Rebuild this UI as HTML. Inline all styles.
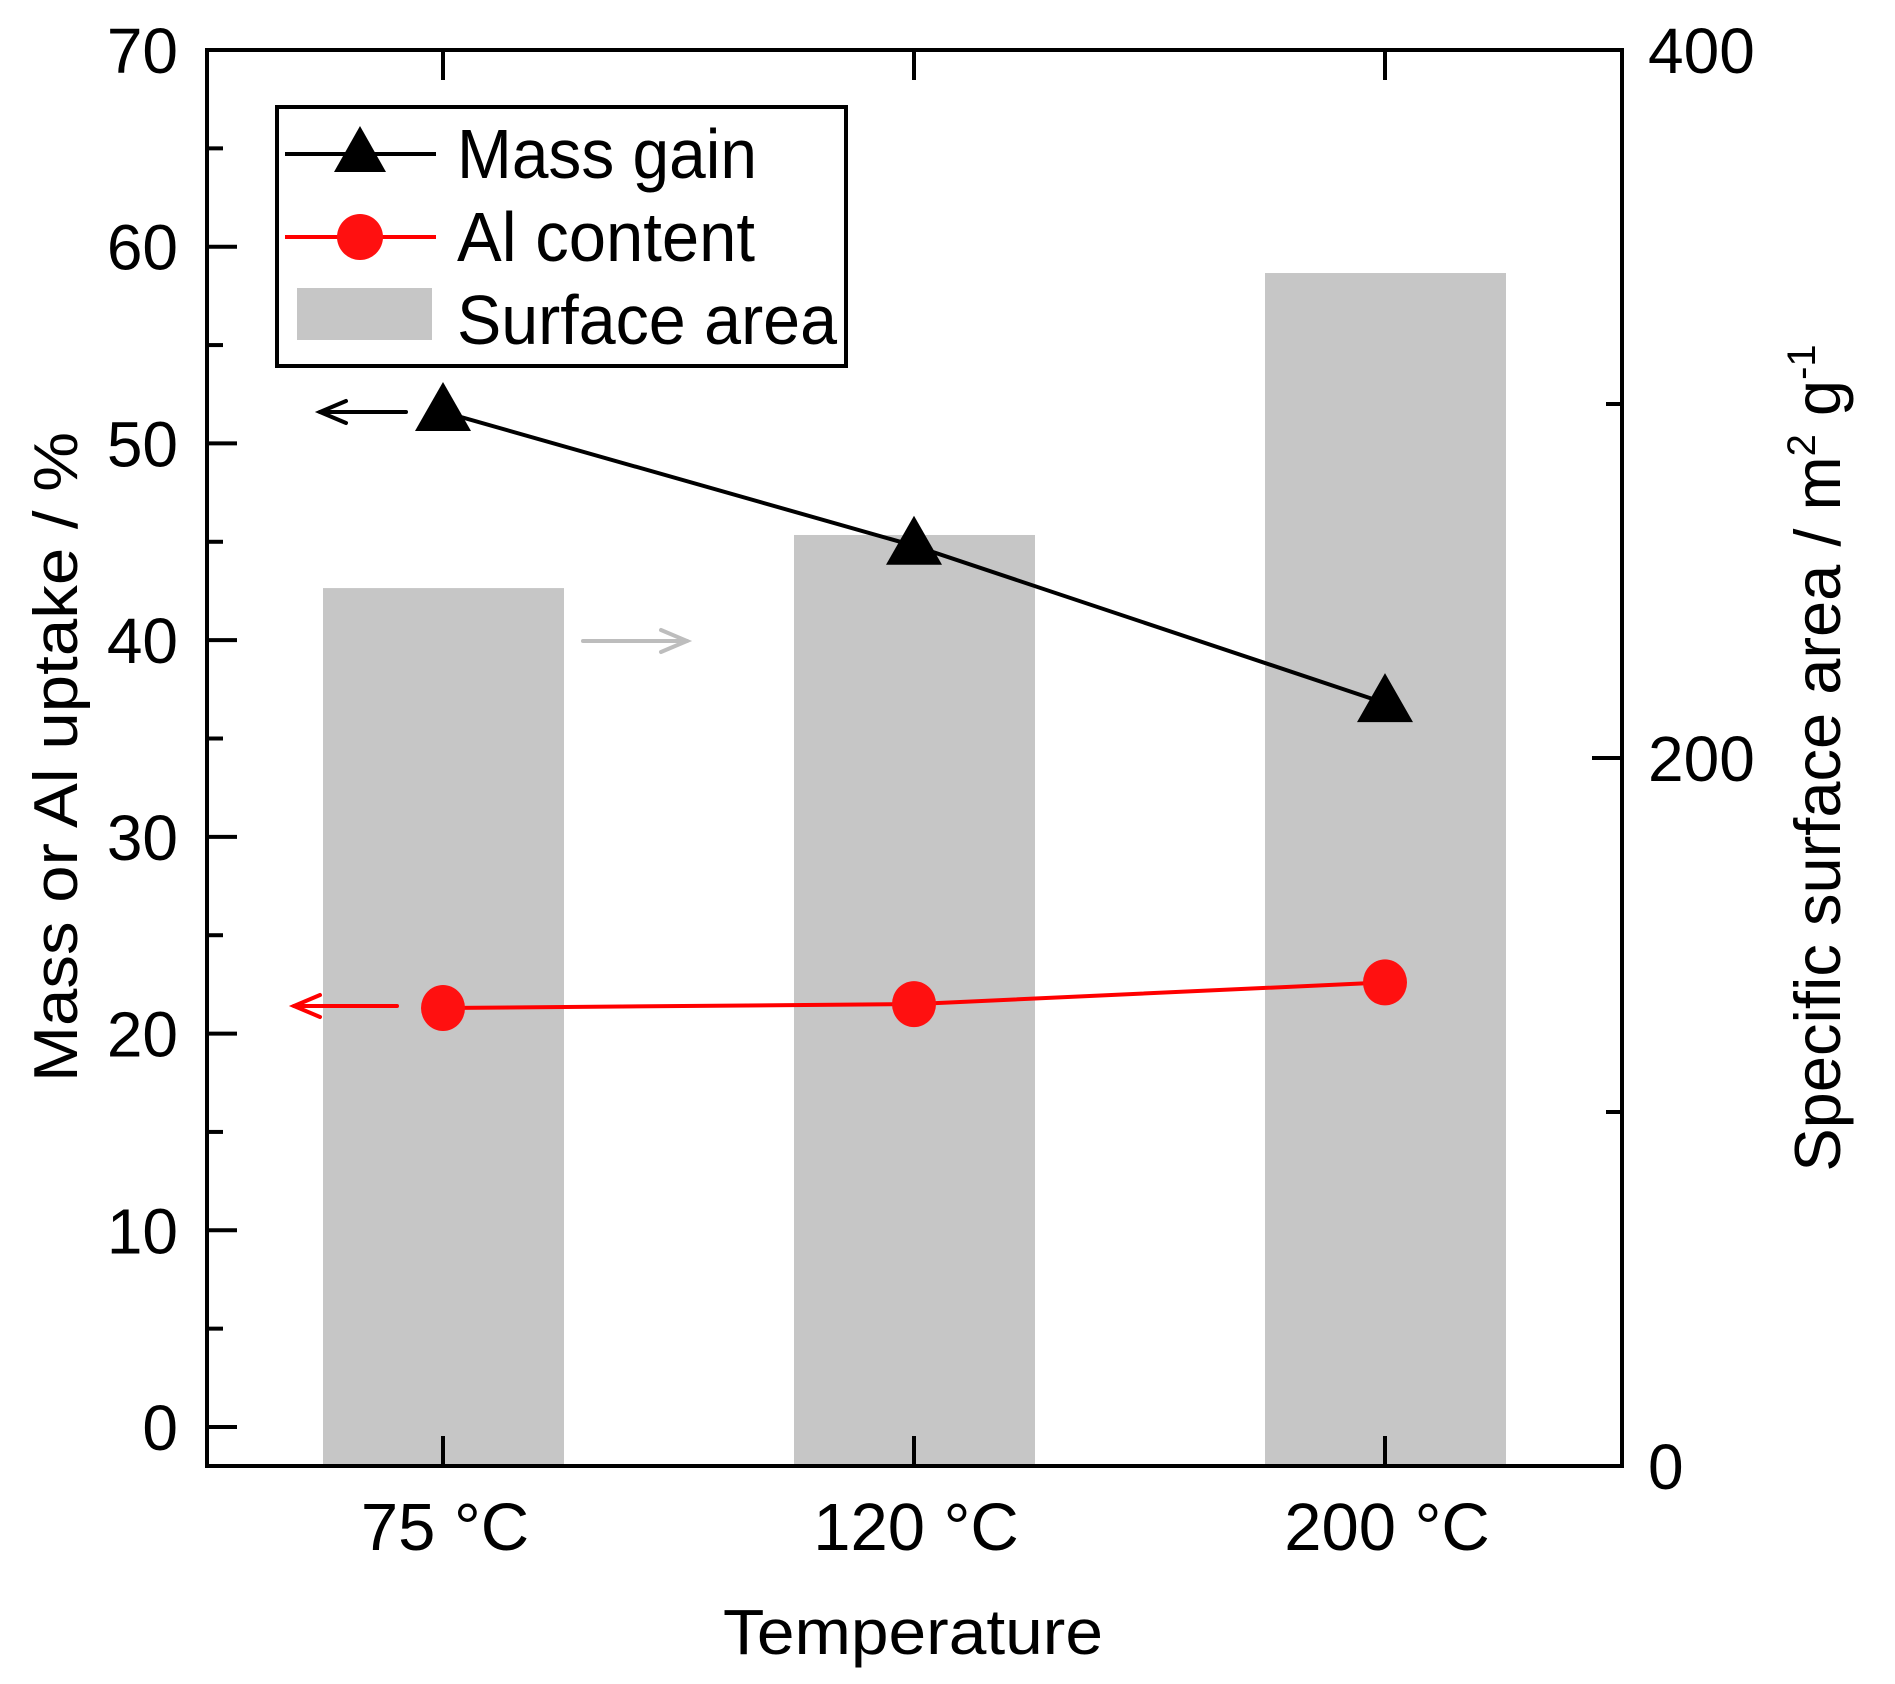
<!DOCTYPE html>
<html><head><meta charset="utf-8"><style>
html,body{margin:0;padding:0;background:#fff;}
svg{display:block;font-family:"Liberation Sans",Arial,sans-serif;}
</style></head><body>
<svg id="chart" width="1895" height="1684" viewBox="0 0 1895 1684" xmlns="http://www.w3.org/2000/svg"></svg>
<script>
const categories = ["75 °C", "120 °C", "200 °C"];
const massGain = [51.6, 44.8, 36.8];
const alContent = [21.3, 21.5, 22.6];
const surfaceArea = [248, 263, 337];
const leftTicks = [0, 10, 20, 30, 40, 50, 60, 70];
const rightTicks = [0, 200, 400];

const NS = "http://www.w3.org/2000/svg";
const svg = document.getElementById("chart");
const L = 207, R = 1622, T = 50, B = 1466;
const yL = v => 1427 + (50 - 1427) * v / 70;
const yR = v => B + (T - B) * v / 400;
const xC = i => 443 + i * 471;
function mk(tag, attrs, parent) {
  const e = document.createElementNS(NS, tag);
  for (const k in attrs) e.setAttribute(k, attrs[k]);
  (parent || svg).appendChild(e);
  return e;
}

categories.forEach((c, i) => {
  const r = mk("rect", {x: xC(i) - 120, y: yR(surfaceArea[i]), width: 241, height: B - yR(surfaceArea[i]), fill: "#c6c6c6"});
  
  
});

for (let v = 0; v <= 70; v += 5) {
  const major = v % 10 === 0;
  const t = mk("line", {x1: L, x2: L + (major ? 30 : 16), y1: yL(v), y2: yL(v), stroke: "#000", "stroke-width": 4});
  
  
}
leftTicks.forEach(v => {
  const tx = mk("text", {x: 178, y: yL(v) + 23, "font-size": 64, "text-anchor": "end"});
  tx.textContent = v;
  
  
});
for (let v = 0; v <= 400; v += 100) {
  const major = v % 200 === 0;
  const t = mk("line", {x1: R, x2: R - (major ? 30 : 16), y1: yR(v), y2: yR(v), stroke: "#000", "stroke-width": 4});
  
  
}
rightTicks.forEach(v => {
  const tx = mk("text", {x: 1648, y: yR(v) + 23, "font-size": 64});
  tx.textContent = v;
  
  
});
categories.forEach((c, i) => {
  const t1 = mk("line", {x1: xC(i), x2: xC(i), y1: B, y2: B - 30, stroke: "#000", "stroke-width": 4});
  
  
  const t2 = mk("line", {x1: xC(i), x2: xC(i), y1: T, y2: T + 30, stroke: "#000", "stroke-width": 4});
  
  
  const tx = mk("text", {x: xC(i) + 2, y: 1550, "font-size": 67, "text-anchor": "middle"});
  tx.textContent = c;
  
  
});

const fr = mk("rect", {x: L, y: T, width: R - L, height: B - T, fill: "none", stroke: "#000", "stroke-width": 4});



const ml = mk("polyline", {points: massGain.map((v, i) => xC(i) + "," + yL(v)).join(" "), fill: "none", stroke: "#000", "stroke-width": 4});


const al = mk("polyline", {points: alContent.map((v, i) => xC(i) + "," + yL(v)).join(" "), fill: "none", stroke: "#ff0000", "stroke-width": 4});


function tri(cx, cy, name) {
  const p = mk("polygon", {points: `${cx},${cy-30} ${cx-28},${cy+19} ${cx+28},${cy+19}`, fill: "#000"});
  
  
}
massGain.forEach((v, i) => tri(xC(i), yL(v), 'mass-gain-point'));
alContent.forEach((v, i) => {
  const c = mk("ellipse", {cx: xC(i), cy: yL(v), rx: 22, ry: 23, fill: "#ff1010"});
  
  
});

function arrow(x1, x2, y, col, name) {
  const g = mk("g", {stroke: col, "stroke-width": 4, fill: "none", "stroke-linecap": "round"});
  
  
  mk("line", {x1: x1, x2: x2, y1: y, y2: y}, g);
  const d = x2 < x1 ? 1 : -1;
  mk("polyline", {points: `${x2 + d*26},${y-11} ${x2},${y} ${x2 + d*26},${y+11}`}, g);
}
arrow(406, 320, 412, "#000", 'mass-gain-axis-arrow');
arrow(583, 687, 641, "#bdbdbd", 'surface-area-axis-arrow');
arrow(397, 294, 1006, "#ff0000", 'al-content-axis-arrow');

const lg = mk("g", {});


mk("rect", {x: 277, y: 107, width: 569, height: 259, fill: "#fff", stroke: "#000", "stroke-width": 4}, lg);
mk("line", {x1: 285, x2: 436, y1: 154, y2: 154, stroke: "#000", "stroke-width": 4}, lg);
mk("polygon", {points: "360,126 334,172 386,172", fill: "#000"}, lg);
mk("line", {x1: 285, x2: 436, y1: 237, y2: 237, stroke: "#ff0000", "stroke-width": 4}, lg);
mk("ellipse", {cx: 360, cy: 237, rx: 23, ry: 23, fill: "#ff1010"}, lg);
mk("rect", {x: 297, y: 288, width: 135, height: 52, fill: "#c6c6c6"}, lg);
[["Mass gain", 178, 300], ["Al content", 261, 298], ["Surface area", 344, 380]].forEach(([s, y, w]) => {
  const t = mk("text", {x: 457, y: y, "font-size": 70, textLength: w, lengthAdjust: "spacingAndGlyphs"}, lg);
  t.textContent = s;
  
  
});

const xt = mk("text", {x: 913, y: 1654, "font-size": 64, "text-anchor": "middle", textLength: 380, lengthAdjust: "spacingAndGlyphs"});
xt.textContent = "Temperature";


const ylt = mk("text", {x: 0, y: 0, "font-size": 62, "text-anchor": "middle", transform: "translate(77,757) rotate(-90)", textLength: 650, lengthAdjust: "spacingAndGlyphs"});
ylt.textContent = "Mass or Al uptake / %";


const yrt = mk("text", {x: 0, y: 0, "font-size": 65, "text-anchor": "middle", transform: "translate(1840,758) rotate(-90)"});


yrt.innerHTML = 'Specific surface area / m<tspan dy="-25" font-size="40">2</tspan><tspan dy="25"> g</tspan><tspan dy="-25" font-size="40">-1</tspan>';
</script>
</body></html>
